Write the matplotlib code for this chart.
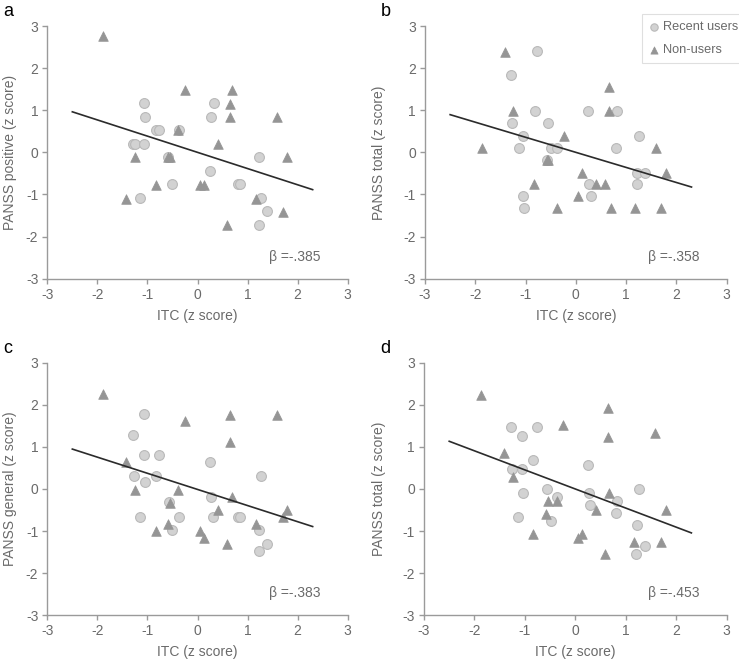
import matplotlib
matplotlib.use("Agg")
import matplotlib.pyplot as plt
import numpy as np

plt.rcParams['font.family'] = ['Liberation Sans', 'DejaVu Sans']
plt.rcParams['axes.unicode_minus'] = False

# ---------------- data ----------------
panel_letters = ["a", "b", "c", "d"]
y_labels = ["PANSS positive (z score)", "PANSS total (z score)",
            "PANSS general (z score)", "PANSS total (z score)"]
x_label = "ITC (z score)"
beta_labels = ["β =-.385", "β =-.358", "β =-.383", "β =-.453"]
betas = [-0.385, -0.358, -0.383, -0.453]
intercepts = [0.0, 0.0, -0.01, 0.0]
line_x = [-2.5, 2.3]
ticks = [-3, -2, -1, 0, 1, 2, 3]
legend_labels = ["Recent users", "Non-users"]

# panel a
a_recent_x = [-1.07, 0.32, -1.04, 0.26, -0.82, -0.76, -0.36, -1.28, -1.25, -1.06, -0.58, 1.22, 0.25, -0.50, 0.80, 0.84, -1.15, 1.27, 1.38, 1.22]
a_recent_y = [1.18, 1.18, 0.85, 0.85, 0.53, 0.53, 0.53, 0.21, 0.21, 0.21, -0.12, -0.12, -0.44, -0.76, -0.76, -0.76, -1.09, -1.09, -1.40, -1.73]
a_non_x = [-1.88, -0.24, 0.68, 0.65, 0.65, 1.58, -0.38, 0.41, -1.24, 1.79, -0.55, -0.58, -0.83, 0.04, 0.13, -1.42, 1.17, 1.70, 0.58]
a_non_y = [2.77, 1.48, 1.48, 1.15, 0.85, 0.85, 0.53, 0.20, -0.12, -0.12, -0.12, -0.12, -0.78, -0.78, -0.78, -1.10, -1.10, -1.42, -1.73]

# panel b
b_recent_x = [-0.77, -1.28, -0.82, 0.24, 0.82, -1.26, -0.56, -1.05, 1.26, -1.14, -0.49, -0.37, 0.80, -0.58, 1.21, 1.38, 0.27, 1.22, -1.06, 0.30, -1.04]
b_recent_y = [2.41, 1.83, 0.97, 0.97, 0.97, 0.69, 0.69, 0.40, 0.40, 0.11, 0.11, 0.11, 0.11, -0.18, -0.48, -0.48, -0.75, -0.75, -1.04, -1.04, -1.32]
b_non_x = [-1.41, 0.66, -1.24, 0.65, -1.87, -0.24, 1.59, -0.56, -0.58, 0.13, 1.79, -0.83, 0.41, 0.58, 0.05, -0.38, 0.69, 1.17, 1.69]
b_non_y = [2.38, 1.54, 0.97, 0.97, 0.11, 0.39, 0.11, -0.18, -0.18, -0.48, -0.48, -0.75, -0.75, -0.75, -1.04, -1.32, -1.32, -1.32, -1.32]

# panel c
c_recent_x = [-1.07, -1.28, -1.07, -0.76, 0.25, -1.26, -0.83, 1.27, -1.04, 0.26, -0.56, -1.15, -0.36, 0.30, 0.80, 0.84, -0.50, 1.22, 1.38, 1.22]
c_recent_y = [1.78, 1.29, 0.81, 0.81, 0.64, 0.32, 0.32, 0.32, 0.16, -0.18, -0.32, -0.66, -0.66, -0.66, -0.66, -0.66, -0.97, -0.97, -1.31, -1.46]
c_non_x = [-1.88, -0.24, 0.65, 1.58, 0.65, -1.42, -1.24, -0.38, 0.68, -0.55, 0.41, 1.79, -0.58, 1.17, 1.70, -0.83, 0.04, 0.13, 0.58]
c_non_y = [2.25, 1.61, 1.76, 1.76, 1.11, 0.63, -0.02, -0.02, -0.18, -0.34, -0.51, -0.51, -0.83, -0.83, -0.67, -0.99, -0.99, -1.16, -1.31]

# panel d
d_recent_x = [-1.28, -0.76, -1.05, 0.25, -0.83, -1.26, -1.06, 1.26, -0.56, -1.04, -0.37, 0.28, 0.30, 0.82, 0.80, -1.14, -0.49, 1.22, 1.21, 1.38]
d_recent_y = [1.46, 1.46, 1.26, 0.58, 0.68, 0.48, 0.48, 0.00, 0.00, -0.09, -0.19, -0.09, -0.39, -0.29, -0.58, -0.67, -0.77, -0.86, -1.54, -1.35]
d_non_x = [-1.88, 0.65, -0.25, 0.65, 1.58, -1.41, -1.24, 0.67, -0.54, -0.37, 0.41, 1.79, -0.59, -0.84, 0.05, 0.13, 1.16, 1.69, 0.58]
d_non_y = [2.22, 1.92, 1.53, 1.24, 1.34, 0.86, 0.29, -0.09, -0.29, -0.29, -0.50, -0.50, -0.59, -1.07, -1.17, -1.07, -1.26, -1.26, -1.55]

recent_x = [a_recent_x, b_recent_x, c_recent_x, d_recent_x]
recent_y = [a_recent_y, b_recent_y, c_recent_y, d_recent_y]
non_x = [a_non_x, b_non_x, c_non_x, d_non_x]
non_y = [a_non_y, b_non_y, c_non_y, d_non_y]

# ---------------- layout ----------------
W, H = 739, 659
fig = plt.figure(figsize=(W / 100, H / 100), dpi=100)

# pixel boxes: (left, top, right, bottom)
boxes = [(47.3, 26.0, 347.7, 278.7),
         (425.0, 26.0, 726.7, 278.7),
         (47.3, 362.6, 347.7, 615.4),
         (424.0, 362.6, 726.7, 615.4)]
ylabel_px = [17, 386, 17, 386]   # right edge of rotated y label

spine_col = "#9a9a9a"
text_col = "#6a6a6a"
circ_face = "#d2d2d2"
circ_edge = "#b9b9b9"
tri_col = "#959595"

for i, (l, t, r, b) in enumerate(boxes):
    ax = fig.add_axes([l / W, 1 - b / H, (r - l) / W, (b - t) / H])
    ax.set_xlim(-3, 3)
    ax.set_ylim(-3, 3)
    ax.set_xticks(ticks)
    ax.set_yticks(ticks)
    for s in ["top", "right"]:
        ax.spines[s].set_visible(False)
    for s in ["left", "bottom"]:
        ax.spines[s].set_color(spine_col)
        ax.spines[s].set_linewidth(1.0)
    ax.tick_params(direction="out", length=3.5, width=1.0, color=spine_col,
                   labelcolor=text_col, labelsize=10, pad=3)
    ax.set_xlabel(x_label, fontsize=10, color=text_col, labelpad=5)
    ax.set_ylabel(y_labels[i], fontsize=10, color=text_col)
    ax.yaxis.set_label_coords((ylabel_px[i] - l) / (r - l), 0.5)

    sc1 = ax.scatter(recent_x[i], recent_y[i], s=50, marker="o", facecolor=circ_face,
                     edgecolor=circ_edge, linewidth=0.8, zorder=3, label=legend_labels[0])
    sc2 = ax.scatter(non_x[i], non_y[i], s=48, marker="^", facecolor=tri_col,
                     edgecolor=tri_col, linewidth=0.5, zorder=3, label=legend_labels[1])
    lx = np.array(line_x)
    ax.plot(lx, intercepts[i] + betas[i] * lx, color="#2b2b2b", lw=1.2, zorder=4)
    ax.text(1.95, -2.48, beta_labels[i], fontsize=10, color=text_col,
            ha="center", va="center")

    fig.text((l - 44) / W, 1 - (t - 14) / H, panel_letters[i], fontsize=13,
             color="black", ha="left", va="center")

    if i == 1:
        leg = fig.legend(handles=[sc1, sc2], labels=legend_labels,
                         loc="upper left", bbox_to_anchor=(641.5 / W, 1 - 14 / H),
                         frameon=True, fancybox=False, fontsize=9.2, labelcolor=text_col,
                         handletextpad=0.3, handlelength=0.8, borderpad=0.55,
                         labelspacing=0.85, markerscale=0.75, borderaxespad=0)
        leg.get_frame().set_edgecolor("#d8d8d8")
        leg.get_frame().set_linewidth(0.8)

fig.savefig("out.png", dpi=100)
